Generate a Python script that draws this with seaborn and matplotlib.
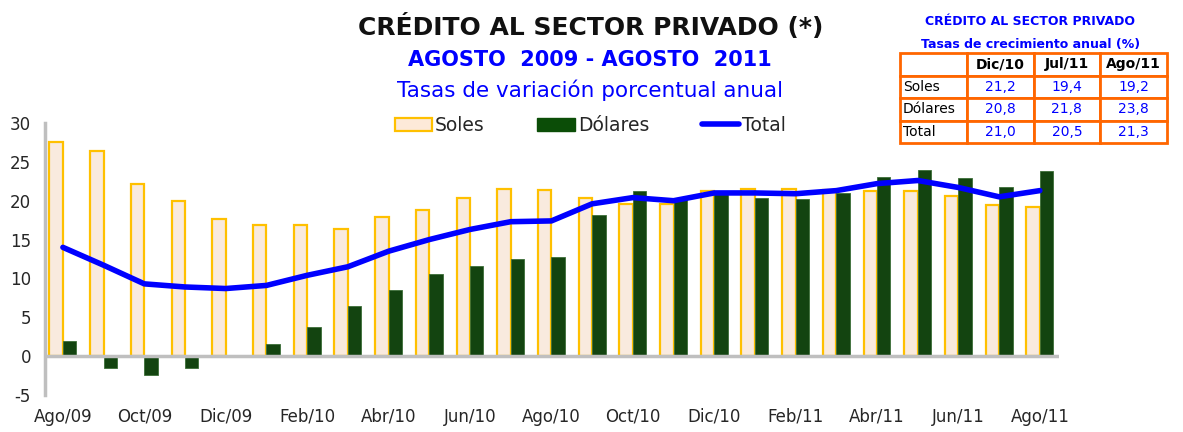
import numpy as np
import pandas as pd
import matplotlib
matplotlib.use("Agg")
import matplotlib.pyplot as plt
import seaborn as sns
from matplotlib.patches import Patch
from matplotlib.lines import Line2D

sns.set_theme(style="white")
plt.rcParams["font.family"] = ["DejaVu Sans"]
plt.rcParams["axes.unicode_minus"] = False

# Datos (tasas de variación porcentual anual)
meses = ["Ago/09", "Sep/09", "Oct/09", "Nov/09", "Dic/09", "Ene/10", "Feb/10", "Mar/10",
         "Abr/10", "May/10", "Jun/10", "Jul/10", "Ago/10", "Sep/10", "Oct/10", "Nov/10",
         "Dic/10", "Ene/11", "Feb/11", "Mar/11", "Abr/11", "May/11", "Jun/11", "Jul/11",
         "Ago/11"]
soles = [27.6, 26.4, 22.2, 20.0, 17.7, 16.9, 16.9, 16.4, 17.9, 18.8, 20.3, 21.5, 21.4,
         20.4, 19.6, 19.6, 21.2, 21.5, 21.5, 21.4, 21.3, 21.3, 20.6, 19.4, 19.2]
dolares = [2.0, -1.5, -2.4, -1.5, 0.0, 1.5, 3.7, 6.4, 8.5, 10.6, 11.6, 12.5, 12.8,
           18.2, 21.2, 20.4, 20.8, 20.3, 20.2, 21.0, 23.1, 23.9, 22.9, 21.8, 23.8]
total = [14.0, 11.7, 9.3, 8.9, 8.7, 9.1, 10.4, 11.5, 13.5, 15.0, 16.3, 17.3, 17.4,
         19.6, 20.4, 20.0, 21.0, 21.0, 20.9, 21.3, 22.2, 22.6, 21.7, 20.5, 21.3]

# Tabla resumen
tabla_cols = ["Dic/10", "Jul/11", "Ago/11"]
tabla_filas = ["Soles", "Dólares", "Total"]
tabla_soles = [21.2, 19.4, 19.2]
tabla_dolares = [20.8, 21.8, 23.8]
tabla_total = [21.0, 20.5, 21.3]

COL_SOLES = "#FDE9D9"
EDGE_SOLES = "#FFC000"
COL_DOL = "#0B4D07"
COL_TOT = "#0000FF"
GRIS = "#BFBFBF"

df = pd.DataFrame({"mes": meses * 2,
                   "valor": soles + dolares,
                   "serie": ["Soles"] * len(meses) + ["Dólares"] * len(meses)})

fig = plt.figure(figsize=(11.83, 4.32), dpi=100)
ax = fig.add_axes([45 / 1183, 37 / 432, 1014 / 1183, 272 / 432])

sns.barplot(data=df, x="mes", y="valor", hue="serie", order=meses,
            palette={"Soles": COL_SOLES, "Dólares": COL_DOL},
            width=0.66, gap=0, legend=False, ax=ax)
for bar in ax.containers[0]:
    bar.set_edgecolor(EDGE_SOLES)
    bar.set_linewidth(1.6)
for bar in ax.containers[1]:
    bar.set_edgecolor("#3C6E38")
    bar.set_linewidth(0.6)

sns.lineplot(x=np.arange(len(meses)), y=total, color=COL_TOT, linewidth=4,
             sort=False, ax=ax)

ax.axhline(0, color=GRIS, linewidth=2.5, zorder=1)
ax.set_xlim(-0.44, len(meses) - 0.53)
ax.set_ylim(-5, 30)
ax.set_yticks(range(-5, 31, 5))
ax.set_xticks(range(0, len(meses), 2))
ax.set_xticklabels(meses[::2])
ax.tick_params(axis="y", length=0, pad=10, labelsize=12)
ax.tick_params(axis="x", length=0, pad=9, labelsize=12)
ax.set_xlabel("")
ax.set_ylabel("")
for s in ["top", "right", "bottom"]:
    ax.spines[s].set_visible(False)
ax.spines["left"].set_color(GRIS)
ax.spines["left"].set_linewidth(2.5)

# Títulos
fig.text(0.499, 0.937, "CRÉDITO AL SECTOR PRIVADO (*)", ha="center", va="center",
         fontsize=18, fontweight="bold", color="#111111")
fig.text(0.499, 0.862, "AGOSTO  2009 - AGOSTO  2011", ha="center", va="center",
         fontsize=15, fontweight="bold", color=COL_TOT)
fig.text(0.499, 0.790, "Tasas de variación porcentual anual", ha="center", va="center",
         fontsize=15.5, color=COL_TOT)

# Leyenda
handles = [Patch(facecolor=COL_SOLES, edgecolor=EDGE_SOLES, linewidth=1.6, label="Soles"),
           Patch(facecolor=COL_DOL, edgecolor=COL_DOL, label="Dólares"),
           Line2D([0], [0], color=COL_TOT, linewidth=4, label="Total")]
fig.legend(handles=handles, loc="center", bbox_to_anchor=(0.499, 0.71), ncol=3,
           frameon=False, fontsize=13.5, handlelength=2.0, handletextpad=0.15,
           columnspacing=2.8)

# Tabla resumen
fig.text(0.871, 0.951, "CRÉDITO AL SECTOR PRIVADO", ha="center", va="center",
         fontsize=9, fontweight="bold", color=COL_TOT)
fig.text(0.871, 0.898, "Tasas de crecimiento anual (%)", ha="center", va="center",
         fontsize=9, fontweight="bold", color=COL_TOT)

fmt = lambda v: f"{v:.1f}".replace(".", ",")
celdas = [[""] + tabla_cols]
for nombre, vals in zip(tabla_filas, [tabla_soles, tabla_dolares, tabla_total]):
    celdas.append([nombre] + [fmt(v) for v in vals])

axt = fig.add_axes([900 / 1183, (432 - 143) / 432, 267 / 1183, 90 / 432])
axt.axis("off")
tbl = axt.table(cellText=celdas, bbox=[0, 0, 1, 1], cellLoc="center")
tbl.auto_set_font_size(False)
for (r, c), cell in tbl.get_celld().items():
    cell.set_edgecolor("#FF6600")
    cell.set_linewidth(2)
    cell.set_facecolor("white")
    txt = cell.get_text()
    txt.set_fontsize(10)
    if r == 0:
        txt.set_fontweight("bold")
        txt.set_color("black")
    elif c == 0:
        txt.set_color("black")
        txt.set_ha("left")
        cell.PAD = 0.04
        cell._loc = "left"
    else:
        txt.set_color(COL_TOT)

fig.savefig("out.png", dpi=100)
